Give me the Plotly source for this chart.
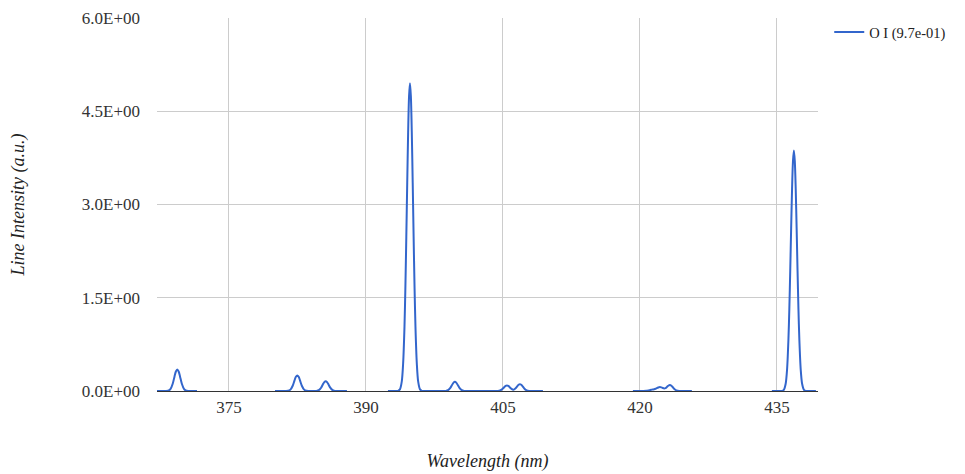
import plotly.graph_objects as go

# Wavelength (nm) and line intensity (a.u.); None separates segments
wavelength = [
    367.12, 368.04, 368.34, 368.59, 368.84, 369.04, 369.19, 369.34, 369.49, 369.64, 369.84, 370.09, 370.34, 370.64, 371.50,
    None,
    380.04, 381.18, 381.48, 381.73, 381.98, 382.18, 382.33, 382.48, 382.63, 382.78, 382.98, 383.23, 383.48, 383.78,
    384.29, 384.59, 384.84, 385.09, 385.29, 385.44, 385.59, 385.74, 385.89, 386.09, 386.34, 386.59, 386.89, 387.92,
    None,
    392.41, 393.32, 393.52, 393.72, 393.92, 394.07, 394.22, 394.32, 394.42, 394.52, 394.62, 394.72, 394.82,
    394.92, 395.02, 395.12, 395.22, 395.32, 395.42, 395.57, 395.72, 395.92, 396.12, 396.32, 397.50,
    398.44, 398.74, 398.99, 399.24, 399.44, 399.59, 399.74, 399.89, 400.04, 400.24, 400.49, 400.74, 401.04, 403.50,
    404.14, 404.44, 404.69, 404.94, 405.14, 405.29, 405.44, 405.59, 405.74, 405.94, 406.15, 406.36, 406.56,
    406.71, 406.86, 407.01, 407.16, 407.36, 407.61, 407.86, 408.16, 409.38,
    None,
    419.23, 420.10, 420.40, 420.70, 420.90, 421.10, 421.25, 421.40, 421.55, 421.70, 421.85, 422.00, 422.19,
    422.35, 422.50, 422.65, 422.80, 422.95, 423.10, 423.28, 423.45, 423.60, 423.80, 424.00, 424.30, 424.60, 425.69,
    None,
    434.45, 435.36, 435.56, 435.76, 435.96, 436.11, 436.26, 436.36, 436.46, 436.56, 436.66, 436.76, 436.86,
    436.96, 437.06, 437.16, 437.26, 437.36, 437.46, 437.61, 437.76, 437.96, 438.16, 438.36, 439.27,
]
intensity = [
    0, 0, 0.004, 0.03, 0.117, 0.235, 0.314, 0.345, 0.314, 0.235, 0.117, 0.03, 0.004, 0, 0,
    None,
    0, 0, 0.003, 0.022, 0.085, 0.17, 0.228, 0.25, 0.228, 0.17, 0.085, 0.022, 0.003, 0,
    0, 0.002, 0.014, 0.053, 0.107, 0.143, 0.157, 0.143, 0.107, 0.053, 0.014, 0.002, 0, 0,
    None,
    0, 0.0003, 0.003, 0.026, 0.15, 0.44, 1.04, 1.68, 2.48, 3.35, 4.16, 4.74, 4.95,
    4.74, 4.16, 3.35, 2.48, 1.68, 1.04, 0.44, 0.15, 0.026, 0.003, 0.0003, 0,
    0, 0.002, 0.013, 0.05, 0.10, 0.135, 0.148, 0.135, 0.10, 0.05, 0.013, 0.002, 0, 0,
    0, 0.0012, 0.008, 0.031, 0.061, 0.082, 0.09, 0.082, 0.062, 0.034, 0.022, 0.040, 0.075,
    0.100, 0.11, 0.100, 0.075, 0.037, 0.0097, 0.0014, 0, 0,
    None,
    0, 0, 0.0003, 0.0024, 0.0068, 0.014, 0.0195, 0.0242, 0.0287, 0.0356, 0.046, 0.057, 0.064,
    0.058, 0.048, 0.042, 0.0475, 0.064, 0.084, 0.095, 0.084, 0.061, 0.0295, 0.010, 0.001, 0, 0,
    None,
    0, 0.0002, 0.0026, 0.020, 0.117, 0.34, 0.82, 1.31, 1.94, 2.62, 3.25, 3.70, 3.87,
    3.70, 3.25, 2.62, 1.94, 1.31, 0.82, 0.34, 0.117, 0.020, 0.0026, 0.0002, 0,
]
series_name = "O I (9.7e-01)"
x_ticks = [375, 390, 405, 420, 435]
y_ticks = [0, 1.5, 3.0, 4.5, 6.0]
y_tick_labels = ["0.0E+00", "1.5E+00", "3.0E+00", "4.5E+00", "6.0E+00"]

FONT = "Liberation Serif"

fig = go.Figure()
fig.add_trace(go.Scatter(
    x=wavelength, y=intensity, name=series_name, mode="lines",
    line=dict(color="#3366cc", width=2, shape="spline", smoothing=0.8),
    connectgaps=False, hoverinfo="x+y",
))

# page body has an 8px margin, so the figure is offset by 8px
fig.update_layout(
    width=957, height=466,
    margin=dict(l=149, r=147, t=10, b=82.5, autoexpand=False),
    paper_bgcolor="white", plot_bgcolor="white",
    font=dict(family=FONT, size=17, color="#222222"),
    showlegend=True,
    legend=dict(x=1.017, y=1.005, xanchor="left", yanchor="top",
                font=dict(family=FONT, size=14.5, color="#222222"),
                bgcolor="rgba(0,0,0,0)"),
    xaxis=dict(
        range=[367.12, 439.5], tickvals=x_ticks, ticktext=[str(v) for v in x_ticks],
        showgrid=True, gridcolor="#cccccc", gridwidth=1,
        zeroline=False, showline=False, ticks="", automargin=False,
        tickfont=dict(family=FONT, size=17, color="#333333"),
        ticklabelstandoff=4,
        title=dict(text="<i>Wavelength (nm)</i>", font=dict(family=FONT, size=18, color="#222222"), standoff=38),
    ),
    yaxis=dict(
        range=[0, 6], tickvals=y_ticks, ticktext=y_tick_labels,
        showgrid=True, gridcolor="#cccccc", gridwidth=1,
        zeroline=True, zerolinecolor="#333333", zerolinewidth=1,
        showline=False, ticks="", automargin=False,
        tickfont=dict(family=FONT, size=17, color="#333333"),
        ticklabelstandoff=16,
        title=dict(text="<i>Line Intensity (a.u.)</i>", font=dict(family=FONT, size=18, color="#222222"), standoff=58),
    ),
)

fig.write_html("out.html")
